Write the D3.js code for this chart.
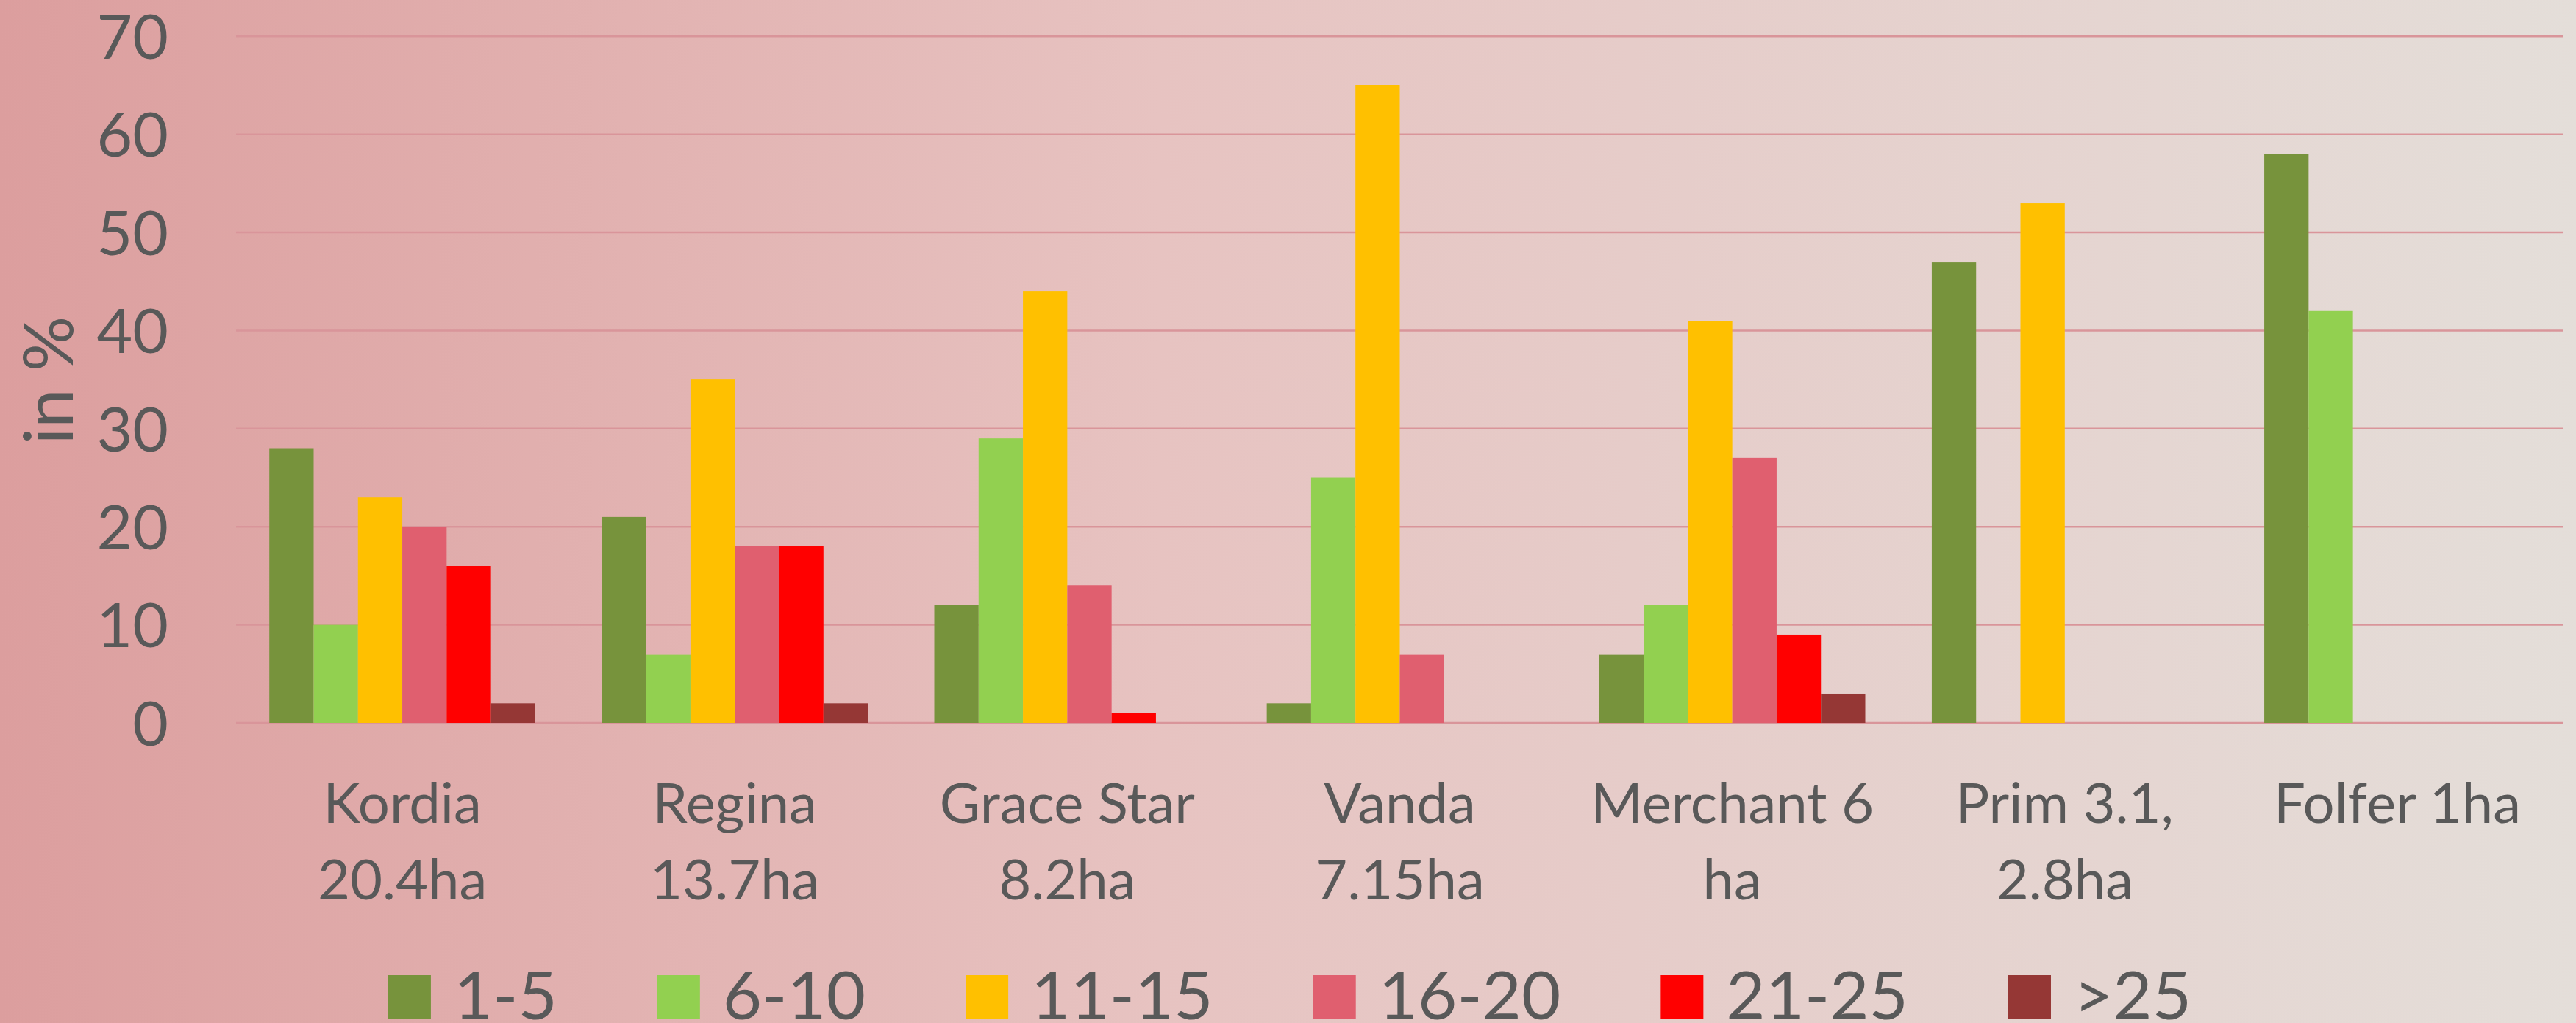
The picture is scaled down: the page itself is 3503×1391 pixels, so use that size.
<!DOCTYPE html>
<html>
<head>
<meta charset="utf-8">
<script src="https://cdn.jsdelivr.net/npm/d3@7"></script>
<style>
html,body{margin:0;padding:0;overflow:hidden;}
svg{display:block;}
text{font-family:Lato,"Open Sans",sans-serif;fill:#595959;}
</style>
</head>
<body>
<svg id="chart" width="3503" height="1391"></svg>
<script>
const categories = ["Kordia\n20.4ha","Regina\n13.7ha","Grace Star\n8.2ha","Vanda\n7.15ha","Merchant 6\nha","Prim 3.1,\n2.8ha","Folfer 1ha"];
const seriesNames = ["1-5","6-10","11-15","16-20","21-25",">25"];
const seriesColors = ["#77933C","#92D050","#FFC000","#E05F6F","#FF0000","#953735"];
const s1_5   = [28,21,12, 2, 7,47,58];
const s6_10  = [10, 7,29,25,12, 0,42];
const s11_15 = [23,35,44,65,41,53, 0];
const s16_20 = [20,18,14, 7,27, 0, 0];
const s21_25 = [16,18, 1, 0, 9, 0, 0];
const s25p   = [ 2, 2, 0, 0, 3, 0, 0];
const seriesValues = [s1_5,s6_10,s11_15,s16_20,s21_25,s25p];
const yTicks = [0,10,20,30,40,50,60,70];
const yTitle = "in %";

const W = 3503, H = 1391;
const svg = d3.select("#chart");
const defs = svg.append("defs");
const grad = defs.append("linearGradient").attr("id","bg").attr("x1","0").attr("x2","1").attr("y1","0").attr("y2","0");
grad.append("stop").attr("offset","0").attr("stop-color","#DC9E9E");
grad.append("stop").attr("offset","0.45").attr("stop-color","#E7C3C1");
grad.append("stop").attr("offset","1").attr("stop-color","#E4DED9");
svg.append("rect").attr("width",W).attr("height",H).attr("fill","url(#bg)");

const plot = {left:321, right:3486, top:49.3, bottom:983};
const x0 = d3.scaleBand().domain(d3.range(categories.length)).range([plot.left, plot.right]).paddingInner(0).paddingOuter(0);
const x1 = d3.scaleBand().domain(d3.range(seriesNames.length));
const catW = x0.bandwidth();
const barW = catW / 7.5;
x1.range([catW*0.1, catW*0.1 + barW*6]);
const y = d3.scaleLinear().domain([0,70]).range([plot.bottom, plot.top]);

// gridlines
svg.append("g").selectAll("line").data(yTicks).join("line")
  .attr("x1",plot.left).attr("x2",plot.right)
  .attr("y1",d=>y(d)).attr("y2",d=>y(d))
  .attr("stroke","#D9959A").attr("stroke-width",2.5);

// y axis labels
const yAxis = d3.axisLeft(y).tickValues(yTicks).tickSize(0).tickPadding(0);
const ga = svg.append("g").attr("transform","translate(229,0)").call(yAxis);
ga.select(".domain").remove();
ga.selectAll("text").attr("font-size",84).attr("fill","#595959").attr("font-family","Lato").attr("dy","0.36em");

// bars
const groups = svg.append("g").selectAll("g").data(categories).join("g")
  .attr("transform",(d,i)=>`translate(${x0(i)},0)`);
groups.selectAll("rect").data((d,i)=>seriesValues.map((s,k)=>({k, v:s[i]}))).join("rect")
  .attr("x",d=>x1(d.k)).attr("width",x1.bandwidth())
  .attr("y",d=>y(d.v)).attr("height",d=>y(0)-y(d.v))
  .attr("fill",d=>seriesColors[d.k]);

// category labels
const cl = svg.append("g").selectAll("text").data(categories).join("text")
  .attr("text-anchor","middle").attr("font-size",76)
  .attr("x",(d,i)=>x0(i)+catW/2).attr("y",1119);
cl.each(function(d,i){
  const lines = d.split("\n");
  const t = d3.select(this);
  lines.forEach((ln,j)=>{
    t.append("tspan").attr("x",x0(i)+catW/2).attr("dy", j===0?0:104).text(ln);
  });
});

// y title
svg.append("text").attr("transform","translate(99,517) rotate(-90)")
  .attr("text-anchor","middle").attr("font-size",94).text(yTitle);

// legend
const lg = svg.append("g");
const items = lg.selectAll("g").data(seriesNames).join("g");
items.append("rect").attr("width",58).attr("height",59).attr("y",1326).attr("fill",(d,i)=>seriesColors[i]);
items.append("text").attr("x",89).attr("y",1386).attr("font-size",92).text(d=>d);
let widths = [];
items.each(function(){ widths.push(89 + d3.select(this).select("text").node().getComputedTextLength()); });
const gap = 136;
const total = d3.sum(widths) + gap*(widths.length-1);
let cx = 1754 - total/2;
items.attr("transform",(d,i)=>{ const xx = cx; cx += widths[i] + gap; return `translate(${xx},0)`; });
</script>
</body>
</html>
